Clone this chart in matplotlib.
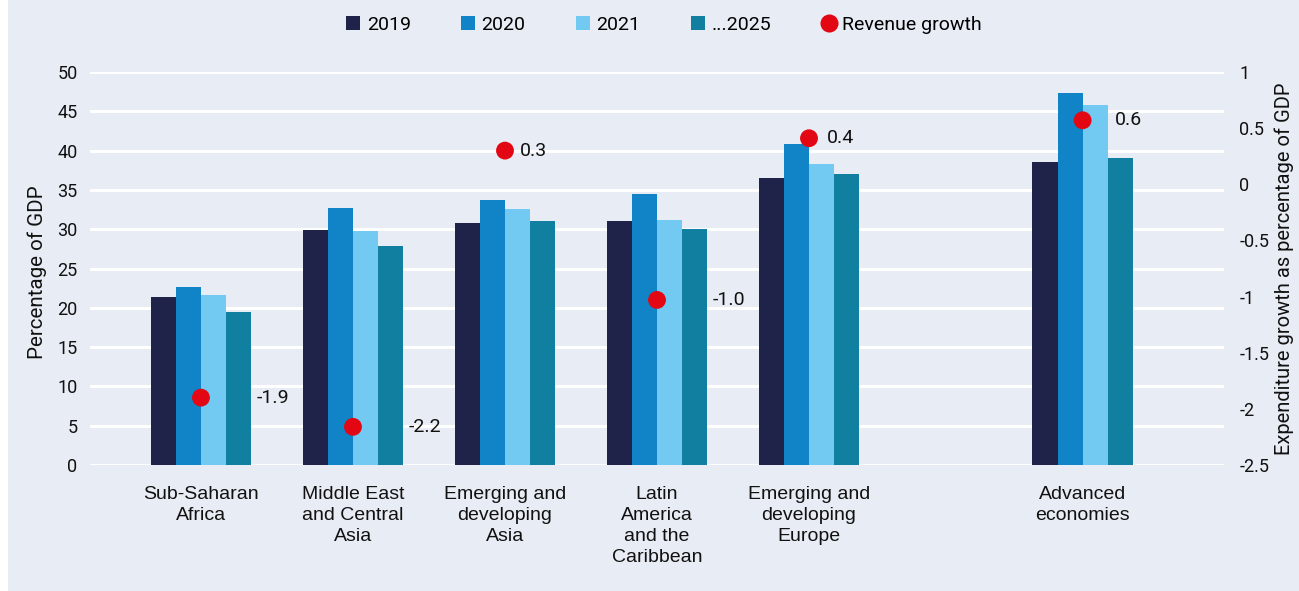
import matplotlib
matplotlib.use("Agg")
import matplotlib.pyplot as plt
import numpy as np
from matplotlib.patches import Rectangle, Patch
from matplotlib.lines import Line2D

plt.rcParams['font.family'] = ['Roboto', 'DejaVu Sans']

categories = ["Sub-Saharan\nAfrica", "Middle East\nand Central\nAsia",
              "Emerging and\ndeveloping\nAsia", "Latin\nAmerica\nand the\nCaribbean",
              "Emerging and\ndeveloping\nEurope", "Advanced\neconomies"]
series_names = ["2019", "2020", "2021", "...2025"]
v2019 = [21.4, 29.9, 30.8, 31.0, 36.5, 38.5]
v2020 = [22.6, 32.7, 33.7, 34.5, 40.8, 47.3]
v2021 = [21.6, 29.8, 32.6, 31.2, 38.3, 45.8]
v2025 = [19.5, 27.9, 31.1, 30.0, 37.0, 39.1]
revenue_growth = [-1.9, -2.16, 0.3, -1.03, 0.41, 0.57]
revenue_labels = ["-1.9", "-2.2", "0.3", "-1.0", "0.4", "0.6"]
left_ticks = [0, 5, 10, 15, 20, 25, 30, 35, 40, 45, 50]
right_ticks = [-2.5, -2, -1.5, -1, -0.5, 0, 0.5, 1]
right_tick_labels = ["-2.5", "-2", "-1.5", "-1", "-0.5", "0", "0.5", "1"]

colors = ["#1f2349", "#1084c6", "#72caf2", "#117fa0"]
red = "#e30613"
bg = "#e8ecf4"
txt = "#111111"

positions = np.array([0, 1, 2, 3, 4, 5.8])
label_offsets = [(40, 0), (40, 0), (11, 0), (40, 0), (13, 0), (23, 0)]

fig = plt.figure(figsize=(12.99, 5.91), dpi=100)
fig.patch.set_facecolor("white")
fig.patches.append(Rectangle((8/1299, 0.5/591), 1, 1, transform=fig.transFigure,
                             facecolor=bg, edgecolor="none", zorder=-10))

ax = fig.add_axes([90/1299, 1 - 465/591, 1134/1299, 393/591])
ax.patch.set_alpha(0)

w = 0.165
allv = [v2019, v2020, v2021, v2025]
for i, (vals, c) in enumerate(zip(allv, colors)):
    ax.bar(positions + (i - 1.5) * w, vals, width=w, color=c, zorder=3, label=series_names[i])

ax.set_ylim(0, 50)
ax.set_xlim(-0.73, 6.73)
ax.set_yticks(left_ticks)
ax.grid(axis="y", color="white", linewidth=2.2, zorder=0)
ax.set_axisbelow(True)
for s in ax.spines.values():
    s.set_visible(False)
ax.tick_params(axis="both", length=0)
ax.tick_params(axis="y", labelsize=13, pad=9, labelcolor=txt)
ax.set_xticks(positions)
ax.set_xticklabels(categories, fontsize=14, linespacing=1.3,
                   family=["Liberation Sans", "DejaVu Sans"], color=txt)
ax.tick_params(axis="x", pad=15)
ax.set_ylabel("Percentage of GDP", fontsize=14.8, color=txt)
ax.yaxis.set_label_coords(-0.038, 0.49)

ax2 = ax.twinx()
ax2.set_ylim(-2.5, 1)
ax2.set_yticks(right_ticks)
ax2.set_yticklabels(right_tick_labels)
for s in ax2.spines.values():
    s.set_visible(False)
ax2.tick_params(axis="y", length=0, labelsize=13, pad=11, labelcolor=txt)
ax2.scatter(positions, revenue_growth, s=165, color=red, zorder=5, edgecolors="none")
for x, y, t, off in zip(positions, revenue_growth, revenue_labels, label_offsets):
    ax2.annotate(t, (x, y), xytext=off, textcoords="offset points", va="center", ha="left",
                 fontsize=14, color=txt)
ax2.set_ylabel("Expenditure growth as percentage of GDP", fontsize=14.5, color=txt)
ax2.yaxis.set_label_coords((1274 - 90) / 1134, 0.5)

handles = [Patch(facecolor=c, edgecolor="none") for c in colors]
handles.append(Line2D([], [], marker="o", linestyle="none", markersize=13,
                      markerfacecolor=red, markeredgecolor="none"))
labels = series_names + ["Revenue growth"]
fig.legend(handles, labels, loc="center", bbox_to_anchor=(664/1299, 1 - 25/591), ncol=5,
           frameon=False, fontsize=14, handlelength=0.7, handleheight=0.7,
           handletextpad=0.35, columnspacing=2.6)

fig.savefig("out.png", dpi=100, facecolor=fig.get_facecolor())
